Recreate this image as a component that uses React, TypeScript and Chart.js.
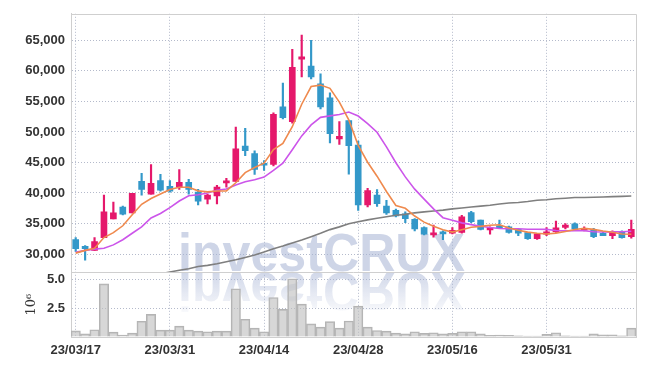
import React, { useEffect, useRef } from 'react';
import { Chart, registerables } from 'chart.js';

Chart.register(...registerables);

const dates = [
  '23/03/17', '23/03/20', '23/03/21', '23/03/22', '23/03/23', '23/03/24', '23/03/27', '23/03/28', '23/03/29', '23/03/30',
  '23/03/31', '23/04/03', '23/04/04', '23/04/05', '23/04/06', '23/04/07', '23/04/10', '23/04/11', '23/04/12', '23/04/13',
  '23/04/14', '23/04/17', '23/04/18', '23/04/19', '23/04/20', '23/04/21', '23/04/24', '23/04/25', '23/04/26', '23/04/27',
  '23/04/28', '23/05/02', '23/05/03', '23/05/04', '23/05/08', '23/05/09', '23/05/10', '23/05/11', '23/05/12', '23/05/15',
  '23/05/16', '23/05/17', '23/05/18', '23/05/19', '23/05/22', '23/05/23', '23/05/24', '23/05/25', '23/05/26', '23/05/30',
  '23/05/31', '23/06/01', '23/06/02', '23/06/05', '23/06/07', '23/06/08', '23/06/09', '23/06/12', '23/06/13', '23/06/14',
];

const tickDates = ['23/03/17', '23/03/31', '23/04/14', '23/04/28', '23/05/16', '23/05/31'];
const priceTicks = [30000, 35000, 40000, 45000, 50000, 55000, 60000, 65000];
const volumeTicks = [0, 2500000, 5000000];

const openP = [
  32350, 31250, 30600, 32700, 35750, 37700, 36750, 41900, 39800, 42050,
  41100, 40950, 41750, 40150, 39000, 39500, 41650, 41900, 47700, 46450,
  44700, 44700, 54100, 51700, 61900, 60800, 57900, 55600, 48850, 51850,
  47850, 38050, 39650, 37850, 37150, 36600, 35700, 34350, 33150, 33550,
  33400, 33550, 36800, 35550, 33950, 34450, 34450, 34050, 33500, 32500,
  33250, 33650, 34350, 34950, 33900, 34050, 33400, 33000, 33650, 32850,
];
const highP = [
  32700, 31400, 32700, 39650, 38500, 37850, 39950, 43200, 44650, 43050,
  42050, 43850, 42250, 40600, 39800, 41250, 42400, 50800, 50600, 46900,
  45300, 53150, 58000, 63550, 65850, 65000, 59500, 56400, 51700, 51850,
  48500, 40750, 40550, 38800, 37350, 36900, 35800, 34450, 34750, 33800,
  34350, 36350, 37000, 35550, 34450, 35550, 34600, 34050, 33500, 33400,
  34350, 35400, 35000, 35100, 34450, 34200, 33550, 33800, 33800, 35550,
];
const lowP = [
  30450, 29000, 30600, 32700, 35750, 36400, 36750, 39650, 39800, 40300,
  40150, 40600, 39800, 38050, 38200, 38200, 40950, 41900, 46100, 43050,
  43700, 44450, 52150, 51450, 59000, 58700, 53750, 48200, 47950, 43100,
  37150, 37700, 37800, 36500, 36100, 35150, 33800, 33150, 32750, 32350,
  33300, 33400, 35150, 33950, 33250, 34200, 33400, 33000, 32400, 32400,
  33000, 33550, 34100, 33950, 33800, 32700, 33000, 32500, 32600, 32600,
];
const closeP = [
  30900, 30900, 32050, 36900, 36750, 36550, 39950, 40600, 41600, 40450,
  40300, 41750, 40600, 38650, 39650, 40950, 41850, 47250, 46950, 43850,
  44550, 52900, 52350, 60600, 62300, 59000, 54100, 49700, 49300, 47750,
  38050, 40400, 38250, 36750, 36250, 35800, 34100, 33250, 33400, 33300,
  33900, 36100, 35300, 34050, 34200, 34300, 33550, 33400, 32500, 33300,
  33650, 34300, 34750, 34100, 34200, 32850, 33000, 33650, 32700, 34050,
];

const volume = [
  540000, 280000, 630000, 4650000, 430000, 170000, 340000, 1380000, 1980000, 600000,
  600000, 950000, 600000, 520000, 460000, 520000, 520000, 4220000, 1550000, 780000,
  460000, 3450000, 2410000, 5090000, 2870000, 1150000, 860000, 1340000, 780000, 1400000,
  2700000, 860000, 570000, 520000, 340000, 280000, 460000, 310000, 370000, 280000,
  310000, 460000, 460000, 280000, 140000, 170000, 140000, 110000, 90000, 90000,
  230000, 370000, 110000, 90000, 90000, 280000, 200000, 200000, 110000, 780000,
];

const ma5 = [
  30150, 30600, 30950, 32700, 33500, 34630, 36440, 38150, 39090, 39830,
  40580, 40940, 40940, 40350, 40190, 40320, 40340, 41670, 43330, 44170,
  44890, 47100, 48120, 50850, 54540, 57430, 57670, 57140, 54880, 51970,
  47780, 45040, 42750, 40240, 37940, 37490, 36230, 35230, 34560, 33970,
  33590, 33990, 34400, 34530, 34710, 34790, 34280, 33900, 33590, 33410,
  33280, 33430, 33700, 34020, 34200, 34040, 33780, 33560, 33280, 33250,
];
const ma10 = [
  30300, 30600, 30800, 30950, 31500, 32350, 33400, 34450, 35900, 36650,
  37600, 38690, 39545, 39720, 40010, 40450, 40640, 41305, 41840, 42180,
  42605, 43720, 44895, 47090, 49355, 51160, 52385, 52630, 52865, 53255,
  52605, 51355, 49945, 47560, 44955, 42635, 40635, 38990, 37400, 35955,
  35540, 35110, 34815, 34545, 34340, 34190, 34135, 34150, 34060, 34060,
  34035, 33855, 33800, 33805, 33805, 33660, 33605, 33630, 33650, 33725,
];
const ma60 = [
  null, null, null, null, null, null, null, null, null, 26750,
  27050, 27350, 27600, 27950, 28150, 28400, 28750, 29050, 29450, 29850,
  30350, 30850, 31300, 31800, 32300, 32850, 33400, 34000, 34450, 34950,
  35300, 35600, 35850, 36100, 36350, 36500, 36750, 36900, 37050, 37200,
  37400, 37550, 37700, 37850, 38000, 38200, 38350, 38450, 38600, 38800,
  38900, 39050, 39150, 39250, 39250, 39300, 39350, 39400, 39450, 39500,
];

const UP = '#e5186b';
const DOWN = '#3398c9';
const GRID = '#b4bacb';
const FRAME = '#cfcfcf';
const TEXT = '#333333';
const TICK_FONT = "'Liberation Sans', Arial, sans-serif";

const panelClip = {
  id: 'panelClip',
  beforeDatasetDraw(chart: any, args: any) {
    const ds = chart.data.datasets[args.index];
    const scale = chart.scales[ds.yAxisID];
    const ca = chart.chartArea;
    const ctx = chart.ctx;
    ctx.save();
    ctx.beginPath();
    ctx.rect(ca.left, scale.top, ca.right - ca.left, scale.bottom - scale.top);
    ctx.clip();
  },
  afterDatasetDraw(chart: any) {
    chart.ctx.restore();
  },
};

const watermark = {
  id: 'watermark',
  beforeDatasetsDraw(chart: any) {
    const ctx = chart.ctx;
    const ca = chart.chartArea;
    const axisY = chart.scales.y.bottom;
    ctx.save();
    ctx.beginPath();
    ctx.rect(ca.left, ca.top, ca.right - ca.left, ca.bottom - ca.top);
    ctx.clip();
    const text = 'investCRUX';
    ctx.font = "bold 54px 'Liberation Sans', Arial, sans-serif";
    ctx.textBaseline = 'alphabetic';
    ctx.textAlign = 'left';
    const w = ctx.measureText(text).width;
    const sx = 287 / w;
    ctx.translate(178, axisY);
    ctx.scale(sx, 1);
    ctx.fillStyle = 'rgba(165,178,212,0.55)';
    ctx.fillText(text, 0, -1);
    ctx.scale(1, -1);
    const g = ctx.createLinearGradient(0, -1, 0, -40);
    g.addColorStop(0, 'rgba(165,178,212,0.5)');
    g.addColorStop(1, 'rgba(165,178,212,0.08)');
    ctx.fillStyle = g;
    ctx.fillText(text, 0, -1);
    ctx.restore();
  },
};

const frame = {
  id: 'frame',
  afterDraw(chart: any) {
    const ctx = chart.ctx;
    const ca = chart.chartArea;
    const sep = Math.round(chart.scales.y.bottom) + 0.5;
    ctx.save();
    ctx.strokeStyle = FRAME;
    ctx.lineWidth = 1;
    ctx.beginPath();
    ctx.moveTo(Math.round(ca.left), Math.round(ca.top) + 0.5);
    ctx.lineTo(Math.round(ca.right) + 0.5, Math.round(ca.top) + 0.5);
    ctx.lineTo(Math.round(ca.right) + 0.5, Math.round(ca.bottom));
    ctx.moveTo(Math.round(ca.left), sep);
    ctx.lineTo(Math.round(ca.right), sep);
    ctx.stroke();
    ctx.restore();
  },
};

export default function App() {
  const ref = useRef<HTMLCanvasElement>(null);

  useEffect(() => {
    const canvas = ref.current;
    if (!canvas) return;
    const candleColors = closeP.map((c, i) => (c >= openP[i] ? UP : DOWN));
    const tickFont = { family: TICK_FONT, size: 13, weight: 'bold' as const };

    const chart = new Chart(canvas, {
      type: 'bar',
      data: {
        labels: dates,
        datasets: [
          {
            type: 'line',
            label: 'MA5',
            data: ma5,
            yAxisID: 'y',
            borderColor: '#ef8a4e',
            borderWidth: 1.6,
            pointRadius: 0,
            tension: 0,
          },
          {
            type: 'line',
            label: 'MA10',
            data: ma10,
            yAxisID: 'y',
            borderColor: '#cc55ea',
            borderWidth: 1.6,
            pointRadius: 0,
            tension: 0,
          },
          {
            type: 'line',
            label: 'MA60',
            data: ma60,
            yAxisID: 'y',
            borderColor: '#7f7f7f',
            borderWidth: 1.6,
            pointRadius: 0,
            tension: 0,
            spanGaps: false,
          },
          {
            type: 'bar',
            label: 'body',
            data: openP.map((o, i) => [o, closeP[i]]),
            yAxisID: 'y',
            backgroundColor: candleColors,
            barThickness: 6,
            minBarLength: 2,
            grouped: false,
            borderWidth: 0,
          },
          {
            type: 'bar',
            label: 'wick',
            data: lowP.map((l, i) => [l, highP[i]]),
            yAxisID: 'y',
            backgroundColor: candleColors,
            barThickness: 1.5,
            grouped: false,
            borderWidth: 0,
          },
          {
            type: 'bar',
            label: 'volume',
            data: volume,
            yAxisID: 'vol',
            backgroundColor: 'rgba(190,190,190,0.62)',
            borderColor: '#b4b4b4',
            borderWidth: 1,
            barPercentage: 1,
            categoryPercentage: 1,
            grouped: false,
          },
        ] as any,
      },
      options: {
        animation: false,
        responsive: true,
        maintainAspectRatio: false,
        layout: { padding: { top: 9, right: 9, left: 0, bottom: 0 } },
        plugins: {
          legend: { display: false },
          tooltip: { enabled: false },
        },
        scales: {
          x: {
            type: 'category',
            offset: true,
            grid: { offset: false, color: GRID, drawTicks: false },
            border: { display: true, color: FRAME, dash: [1, 2] },
            ticks: {
              autoSkip: false,
              maxRotation: 0,
              padding: 6,
              color: TEXT,
              font: tickFont,
            },
            afterBuildTicks: (scale: any) => {
              scale.ticks = scale.ticks.filter((t: any) => tickDates.includes(dates[t.value]));
            },
            afterFit: (scale: any) => {
              scale.height = 29;
            },
          },
          vol: {
            type: 'linear',
            axis: 'y',
            position: 'left',
            stack: 'panels',
            stackWeight: 1,
            min: 0,
            max: 5650000,
            grid: { color: GRID, drawTicks: false },
            border: { display: true, color: FRAME, dash: [1, 2] },
            ticks: {
              autoSkip: false,
              padding: 6,
              color: TEXT,
              font: tickFont,
              callback: (v: any) => (Number(v) === 0 ? '' : (Number(v) / 1e6).toFixed(1)),
            },
            afterBuildTicks: (scale: any) => {
              scale.ticks = volumeTicks.map((v) => ({ value: v }));
            },
            title: {
              display: true,
              text: '10⁶',
              color: TEXT,
              font: { family: "'DejaVu Serif', serif", size: 13 },
              padding: { top: 24, bottom: 0 },
            },
            afterFit: (scale: any) => {
              scale.width = 71;
            },
          },
          y: {
            type: 'linear',
            position: 'left',
            stack: 'panels',
            stackWeight: 4,
            min: 27000,
            max: 69350,
            grid: { color: GRID, drawTicks: false },
            border: { display: true, color: FRAME, dash: [1, 2] },
            ticks: {
              autoSkip: false,
              padding: 6,
              color: TEXT,
              font: tickFont,
              callback: (v: any) => Number(v).toLocaleString('en-US'),
            },
            afterBuildTicks: (scale: any) => {
              scale.ticks = priceTicks.map((v) => ({ value: v }));
            },
            afterFit: (scale: any) => {
              scale.width = 71;
            },
          },
        } as any,
      },
      plugins: [panelClip, watermark, frame],
    });

    return () => chart.destroy();
  }, []);

  return (
    <div style={{ position: 'absolute', left: 0, top: 0, width: 645, height: 366, background: '#ffffff' }}>
      <canvas ref={ref} />
    </div>
  );
}
